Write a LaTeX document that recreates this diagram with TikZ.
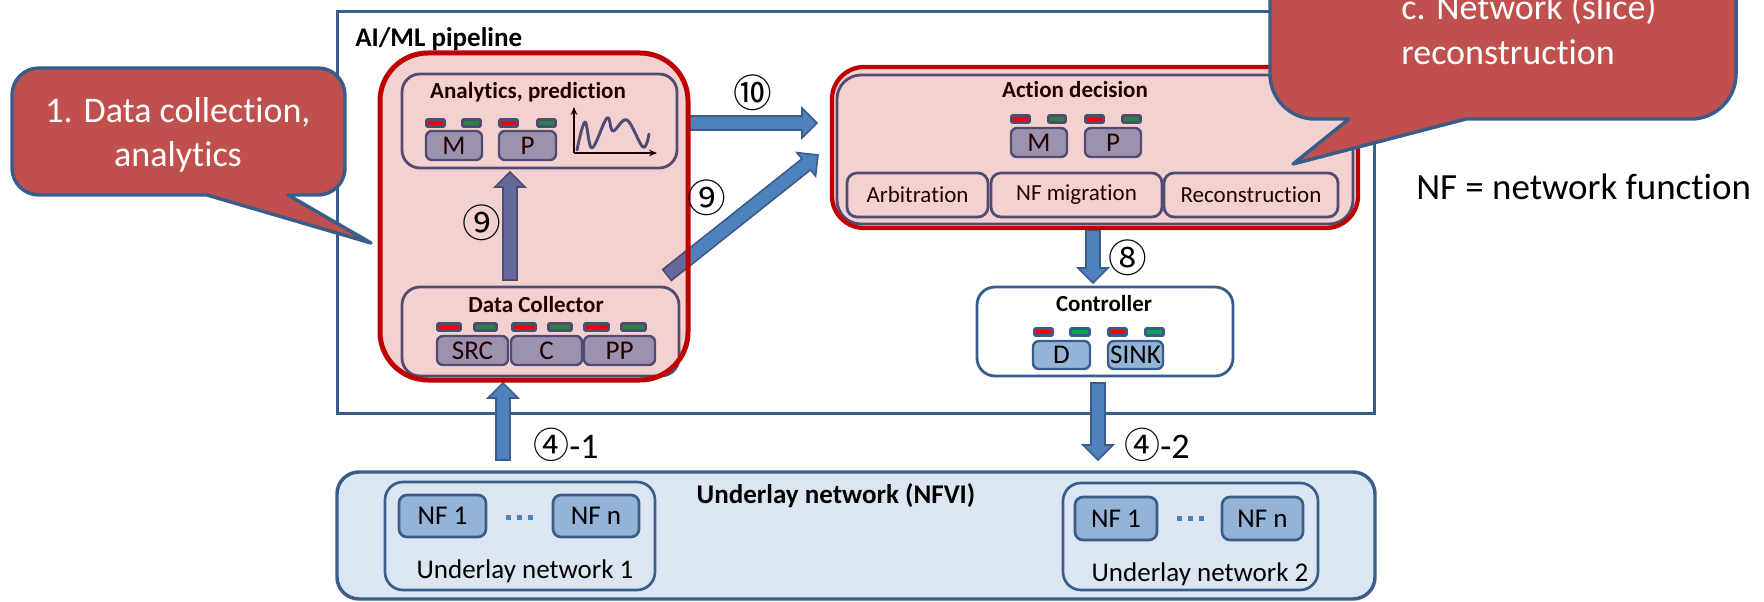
\documentclass[tikz,border=0pt]{standalone}
\usepackage{fontspec}
\setmainfont{Carlito}[Ligatures=NoCommon]
\newfontfamily\circfont{Noto Sans CJK JP}
\usetikzlibrary{calc,fit,arrows.meta}

\definecolor{frame}{HTML}{385D8A}
\definecolor{boxblue}{HTML}{95B3D7}
\definecolor{underfill}{HTML}{DCE6F2}
\definecolor{arrfill}{HTML}{4F81BD}
\definecolor{callred}{HTML}{C0504D}
\definecolor{grpred}{HTML}{C00000}
\definecolor{ledred}{HTML}{FF0000}
\definecolor{ledgreen}{HTML}{00A650}

\newcommand\fsHuge{\fontsize{27pt}{33pt}\selectfont}
\newcommand\fsLegend{\fontsize{27.7pt}{33pt}\selectfont}
\newcommand\fsCirc{\fontsize{29pt}{33pt}\selectfont}
\newcommand\fsBig{\fontsize{20.25pt}{24pt}\selectfont}
\newcommand\fsMid{\fontsize{20.3pt}{24pt}\selectfont}
\newcommand\fsSmall{\fontsize{17.25pt}{21pt}\selectfont}

\tikzset{
  px/.style={x=0.75pt,y=-0.75pt},
  outerframe/.style={draw=frame, line width=2.25pt, inner sep=0pt},
  groupbox/.style={draw=frame, line width=2.1pt, rounded corners=13.5pt, inner sep=0pt},
  unitbox/.style={draw=frame, fill=boxblue, line width=1.8pt, rounded corners=4.5pt, inner sep=0pt},
  tabbox/.style={draw=frame, line width=2.1pt, rounded corners=7.5pt, inner sep=0pt},
  subnet/.style={draw=frame, line width=2pt, rounded corners=13.5pt, inner sep=0pt},
  nfbox/.style={draw=frame, fill=boxblue, line width=2pt, rounded corners=6pt, inner sep=0pt},
  midtext/.style={font=\fsMid, inner sep=0pt},
  smalltext/.style={font=\fsSmall, inner sep=0pt},
  boxtitle/.style={anchor=base, font=\bfseries\fsSmall, inner sep=0pt},
  bigtitle/.style={anchor=base, font=\bfseries\fsBig, inner sep=0pt},
  plain/.style={anchor=base, font=\fsBig, inner sep=0pt},
  ledstyle/.style={draw=frame, line width=2.1pt, rounded corners=0.8pt},
  arrowbody/.style={fill=arrfill, draw=frame, line width=1.2pt, line join=miter},
  overlaygroup/.style={draw=grpred, fill=grpred, fill opacity=0.18, draw opacity=1, inner sep=0pt},
  circnum/.style={font=\circfont\fsCirc, inner sep=0pt},
  callout/.style={fill=callred, draw=frame, line width=2.6pt, line join=round},
  callouttext/.style={font=\fsHuge, text=white, inner sep=0pt}
}

% indicator bar: corners (x1,y1), (x2,y2), fill colour
\newcommand\ledbar[5]{\draw[ledstyle, fill=#5] ($(#1,#2)+(1.5,1.5)$) rectangle ($(#3,#4)-(1.5,1.5)$);}

% block arrow from a tail coordinate to a tip coordinate
\newcommand\blockarrow[2]{%
  \coordinate (ba-h) at ($(#2)!11.25pt!(#1)$);
  \filldraw[arrowbody]
    ($(#1)!5.25pt!90:(#2)$) -- ($(ba-h)!5.25pt!90:(#2)$) -- ($(ba-h)!11.25pt!90:(#2)$)
    -- (#2) -- ($(ba-h)!11.25pt!-90:(#2)$) -- ($(ba-h)!5.25pt!-90:(#2)$)
    -- ($(#1)!5.25pt!-90:(#2)$) -- cycle;
}

\begin{document}
\begin{tikzpicture}[px]
\useasboundingbox (0,0) rectangle (1764,602);
\clip (0,0) rectangle (1764,602);

% ---------- pipeline frame ----------
\node[outerframe, fit={(337,12)(1374,413)}] (pipe) {};
\node[anchor=base west, font=\bfseries\fsBig, inner sep=0pt] (pipetitle) at (355,47) {AI/ML pipeline};

% ---------- underlay network ----------
\node[draw=frame, fill=underfill, line width=2.6pt, rounded corners=16.5pt, inner sep=0pt,
      fit={(337,472)(1375,599)}] (nfvi) {};
\node[bigtitle] (nfvititle) at (836,503) {Underlay network (NFVI)};

\node[subnet, fit={(385,482)(655,590)}] (un1) {};
\node[nfbox, fit={(399,495)(486,537)}] (un1a) {};
\node[midtext] (un1at) at (un1a.center) {NF 1};
\node[nfbox, fit={(553,495)(639,537)}] (un1b) {};
\node[midtext] (un1bt) at (un1b.center) {NF n};
\foreach \dx in {506,517,528} \fill[arrfill] (\dx,515) rectangle ++(5,5);
\node[plain] (un1title) at (525,578) {Underlay network 1};

\node[subnet, fit={(1063,483)(1318,590)}] (un2) {};
\node[nfbox, fit={(1075,497)(1157,540)}] (un2a) {};
\node[midtext] (un2at) at (un2a.center) {NF 1};
\node[nfbox, fit={(1222,497)(1303,540)}] (un2b) {};
\node[midtext] (un2bt) at (un2b.center) {NF n};
\foreach \dx in {1177,1188,1199} \fill[arrfill] (\dx,516) rectangle ++(5,5);
\node[plain] (un2title) at (1200,581) {Underlay network 2};

% ---------- controller ----------
\node[groupbox, fill=white, fit={(977,287)(1233,376)}] (ctrl) {};
\node[boxtitle] (ctrltitle) at (1104,312) {Controller};
\ledbar{1033}{327}{1054}{337}{ledred}
\ledbar{1069}{327}{1091}{337}{ledgreen}
\ledbar{1107}{327}{1128}{337}{ledred}
\ledbar{1144}{327}{1165}{337}{ledgreen}
\node[unitbox, fit={(1033,341)(1090,369)}] (ctrld) {};
\node[midtext] (ctrldt) at (ctrld.center) {D};
\node[unitbox, fit={(1108,341)(1163,369)}] (ctrlsink) {};
\node[midtext] (ctrlsinkt) at (ctrlsink.center) {SINK};

% ---------- analytics, prediction ----------
\node[groupbox, fit={(402,74)(677,168)}] (ana) {};
\node[boxtitle] (anatitle) at (528,99) {Analytics, prediction};
\ledbar{425}{118}{446}{128}{ledred}
\ledbar{461}{118}{482}{128}{ledgreen}
\ledbar{498}{118}{519}{128}{ledred}
\ledbar{536}{118}{557}{128}{ledgreen}
\node[unitbox, fit={(426,131)(482,160)}] (anam) {};
\node[midtext] (anamt) at (anam.center) {M};
\node[unitbox, fit={(499,131)(556,160)}] (anap) {};
\node[midtext] (anapt) at (anap.center) {P};
\draw[black, line width=1pt, -{Stealth[length=6pt,width=5pt]}] (574,153) -- (574,107);
\draw[black, line width=1pt, -{Stealth[length=6pt,width=5pt]}] (574,153) -- (657,153);
\draw[frame, line width=2.2pt, line join=round, line cap=round]
  plot[smooth, tension=0.6] coordinates {(577,150) (585,122) (592,148) (607,118) (613,131) (627,120) (643,147) (649,134)};

% ---------- data collector ----------
\node[groupbox, fit={(402,287)(679,376)}] (dc) {};
\node[boxtitle] (dctitle) at (536,313) {Data Collector};
\ledbar{436}{322}{462}{332}{ledred}
\ledbar{473}{322}{498}{332}{ledgreen}
\ledbar{511}{322}{537}{332}{ledred}
\ledbar{547}{322}{573}{332}{ledgreen}
\ledbar{583}{322}{610}{332}{ledred}
\ledbar{620}{322}{647}{332}{ledgreen}
\node[unitbox, fit={(437,336)(508,365)}] (dcsrc) {};
\node[midtext] (dcsrct) at (dcsrc.center) {SRC};
\node[unitbox, fit={(511,336)(582,365)}] (dcc) {};
\node[midtext] (dcct) at (dcc.center) {C};
\node[unitbox, fit={(584,336)(655,365)}] (dcpp) {};
\node[midtext] (dcppt) at (dcpp.center) {PP};

% ---------- action decision ----------
\node[groupbox, rounded corners=18pt, fit={(837,75)(1353,224)}] (act) {};
\node[boxtitle] (acttitle) at (1075,98) {Action decision};
\ledbar{1010}{114}{1031}{124}{ledred}
\ledbar{1047}{114}{1067}{124}{ledgreen}
\ledbar{1084}{114}{1105}{124}{ledred}
\ledbar{1121}{114}{1142}{124}{ledgreen}
\node[unitbox, fit={(1011,128)(1067,157)}] (actm) {};
\node[midtext] (actmt) at (actm.center) {M};
\node[unitbox, fit={(1085,128)(1141,157)}] (actp) {};
\node[midtext] (actpt) at (actp.center) {P};
\node[tabbox, fit={(847,173)(988,217)}] (arb) {};
\node[smalltext] (arbt) at (arb.center) {Arbitration};
\node[tabbox, fit={(991,173)(1162,217)}] (mig) {};
\node[smalltext] (migt) at (mig.center) {NF migration};
\node[tabbox, fit={(1164,173)(1338,217)}] (rec) {};
\node[smalltext] (rect) at (rec.center) {Reconstruction};

% ---------- block arrows ----------
\coordinate (a9t) at (510,280);  \coordinate (a9h) at (510,172);
\coordinate (d9t) at (667,275);  \coordinate (d9h) at (818,155);
\coordinate (a10t) at (688,123); \coordinate (a10h) at (817,123);
\coordinate (a8t) at (1093,230); \coordinate (a8h) at (1093,283);
\coordinate (a41t) at (503,460); \coordinate (a41h) at (503,383);
\coordinate (a42t) at (1098,383);\coordinate (a42h) at (1098,460);
\blockarrow{a9t}{a9h}
\blockarrow{d9t}{d9h}
\blockarrow{a10t}{a10h}
\blockarrow{a8t}{a8h}
\blockarrow{a41t}{a41h}
\blockarrow{a42t}{a42h}

% ---------- translucent function groups ----------
\node[overlaygroup, line width=3.75pt, rounded corners=36pt, fit={(380,53)(688,380)}] (grp1) {};
\node[overlaygroup, line width=3.2pt, rounded corners=24pt, fit={(832,67)(1358,228)}] (grp2) {};

% ---------- step numbers ----------
\node[circnum] (n9a) at (482,223) {⑨};
\node[circnum] (n9b) at (707,198) {⑨};
\node[circnum] (n10) at (753,93) {⑩};
\node[circnum] (n8) at (1128,258) {⑧};
\node[anchor=west, inner sep=0pt, font=\fsHuge] (n41) at (533,445) {{\circfont ④}-1};
\node[anchor=west, inner sep=0pt, font=\fsHuge] (n42) at (1124,445) {{\circfont ④}-2};

% ---------- callouts ----------
\filldraw[callout] (207,195) -- (371,243) -- (288,195) -- (318,195)
  arc[start angle=90, end angle=0, radius=27] -- (345,95)
  arc[start angle=0, end angle=-90, radius=27] -- (39,68)
  arc[start angle=-90, end angle=-180, radius=27] -- (12,168)
  arc[start angle=180, end angle=90, radius=27] -- cycle;
\node[callouttext, anchor=base] (c1a) at (178,123) {1. Data collection,};
\node[callouttext, anchor=base] (c1b) at (178,167) {analytics};

\filldraw[callout] (1466,119) -- (1293,164) -- (1349,119) -- (1315,119)
  arc[start angle=90, end angle=180, radius=45] -- (1270,-60) -- (1736,-60) -- (1736,74)
  arc[start angle=0, end angle=90, radius=45] -- cycle;
\node[callouttext, anchor=base west] (c2a) at (1401,20) {c. Network (slice)};
\node[callouttext, anchor=base west] (c2b) at (1401,65) {reconstruction};

% ---------- legend ----------
\node[anchor=base west, font=\fsLegend, inner sep=0pt] (legend) at (1416,200) {NF = network function};
\end{tikzpicture}
\end{document}
